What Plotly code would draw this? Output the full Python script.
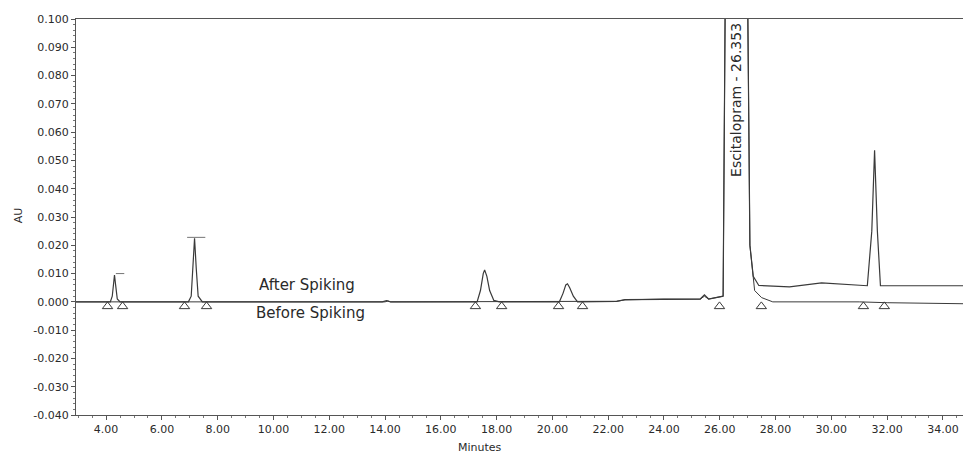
import plotly.graph_objects as go

# After Spiking trace (minutes, AU)
after_t = [2.9, 4.15, 4.22, 4.27, 4.30, 4.34, 4.40, 4.50,
           6.95, 7.05, 7.12, 7.17, 7.23, 7.30, 7.45,
           13.9, 14.05, 14.2,
           17.30, 17.42, 17.52, 17.57, 17.65, 17.75, 17.90, 18.10,
           20.25, 20.38, 20.48, 20.54, 20.62, 20.75, 20.90,
           22.3, 22.6, 24.0, 25.3, 25.45, 25.6,
           26.12, 26.55, 27.08, 27.20, 27.40, 28.5, 29.65, 30.6,
           31.29, 31.45, 31.55, 31.65, 31.76, 33.0, 35.0]
after_v = [0.0000, 0.0000, 0.0020, 0.0070, 0.0095, 0.0060, 0.0010, 0.0000,
           0.0000, 0.0020, 0.0120, 0.0225, 0.0120, 0.0020, 0.0000,
           0.0000, 0.0004, 0.0000,
           0.0000, 0.0040, 0.0100, 0.0113, 0.0090, 0.0040, 0.0005, 0.0000,
           0.0000, 0.0030, 0.0060, 0.0064, 0.0050, 0.0020, 0.0000,
           0.0002, 0.0008, 0.0010, 0.0010, 0.0025, 0.0010,
           0.0020, 0.6000, 0.0200, 0.0090, 0.0058, 0.0053, 0.0067, 0.0060,
           0.0057, 0.0250, 0.0536, 0.0250, 0.0057, 0.0057, 0.0057]

# Before Spiking trace (minutes, AU)
before_t = [2.9, 14.0, 14.1, 14.2, 22.3, 22.6, 24.0, 25.3, 25.45, 25.6,
            26.12, 26.55, 27.08, 27.25, 27.50, 27.90, 31.0, 32.0, 35.0]
before_v = [0.0000, 0.0000, 0.0003, 0.0000, 0.0002, 0.0007, 0.0010, 0.0010, 0.0020, 0.0010,
            0.0020, 0.6000, 0.0200, 0.0040, 0.0015, 0.0000, 0.0000, -0.0003, -0.0007]

# Integration baseline markers (minutes)
mark_t = [4.05, 4.59, 6.81, 7.60, 17.24, 18.18, 20.22, 21.08, 25.99, 27.49, 31.15, 31.90]
mark_v = [-0.0016] * len(mark_t)

# Peak apex ticks
apex_t = [4.50, 7.23]
apex_v = [0.0100, 0.0228]
apex_size = [6, 13]

x_ticks = [4, 6, 8, 10, 12, 14, 16, 18, 20, 22, 24, 26, 28, 30, 32, 34]
x_labels = [f"{v:.2f}" for v in x_ticks]
y_ticks = [0.100, 0.090, 0.080, 0.070, 0.060, 0.050, 0.040, 0.030, 0.020, 0.010,
           0.000, -0.010, -0.020, -0.030, -0.040]
y_labels = [f"{v:.3f}" for v in y_ticks]

line_col = "#3a3a3a"
font_fam = "DejaVu Sans, Verdana, sans-serif"
txt_col = "#2a2a2a"

fig = go.Figure()
fig.add_trace(go.Scatter(x=before_t, y=before_v, mode="lines",
                         line=dict(color=line_col, width=1), name="Before Spiking"))
fig.add_trace(go.Scatter(x=after_t, y=after_v, mode="lines",
                         line=dict(color=line_col, width=1.2), name="After Spiking"))
fig.add_trace(go.Scatter(x=mark_t, y=mark_v, mode="markers",
                         marker=dict(symbol="triangle-up-open", size=9,
                                     color=line_col, line=dict(width=1)),
                         name="marks"))
fig.add_trace(go.Scatter(x=apex_t, y=apex_v, mode="markers",
                         marker=dict(symbol="line-ew-open", size=apex_size,
                                     color=line_col, line=dict(width=1)),
                         name="apex"))

fig.add_annotation(x=26.6, y=0.0712, text="Escitalopram - 26.353", textangle=-90,
                   showarrow=False, font=dict(family=font_fam, size=14, color=txt_col),
                   bgcolor="white", borderpad=0)
fig.add_annotation(x=9.42, y=0.0060, text="After Spiking", showarrow=False,
                   xanchor="left", font=dict(family=font_fam, size=15, color=txt_col))
fig.add_annotation(x=9.31, y=-0.0039, text="Before Spiking", showarrow=False,
                   xanchor="left", font=dict(family=font_fam, size=15, color=txt_col))
fig.add_annotation(x=17.39, xref="x", y=-0.083, yref="paper", text="Minutes",
                   showarrow=False, yanchor="middle",
                   font=dict(family=font_fam, size=11, color=txt_col))
fig.add_annotation(x=-0.065, xref="paper", y=0.505, yref="paper", text="AU",
                   showarrow=False, textangle=-90, xanchor="center",
                   font=dict(family=font_fam, size=11, color=txt_col))

fig.update_layout(
    width=963, height=455,
    margin=dict(l=76, r=0, t=19, b=40),
    paper_bgcolor="white", plot_bgcolor="white",
    showlegend=False, hovermode=False,
    font=dict(family=font_fam, size=11, color="#333"),
)
fig.update_xaxes(range=[2.92, 34.72], tickvals=x_ticks, ticktext=x_labels,
                 automargin=False,
                 showgrid=False, zeroline=False, showline=True, linecolor="#555",
                 linewidth=1, mirror=True, ticks="outside", ticklen=4, tickcolor="#555",
                 minor=dict(dtick=0.5, ticks="outside", ticklen=2, tickcolor="#777"),
                 tickfont=dict(size=11, color=txt_col))
fig.update_yaxes(range=[-0.040, 0.100], tickvals=y_ticks, ticktext=y_labels,
                 automargin=False,
                 showgrid=False, zeroline=False, showline=True, linecolor="#555",
                 linewidth=1, ticks="outside", ticklen=4, tickcolor="#555",
                 minor=dict(dtick=0.002, ticks="outside", ticklen=2, tickcolor="#777"),
                 tickfont=dict(size=11, color=txt_col))

fig.write_html("out.html", config={"displayModeBar": False},
               post_script="document.body.style.margin='0';document.body.style.overflow='hidden';")
